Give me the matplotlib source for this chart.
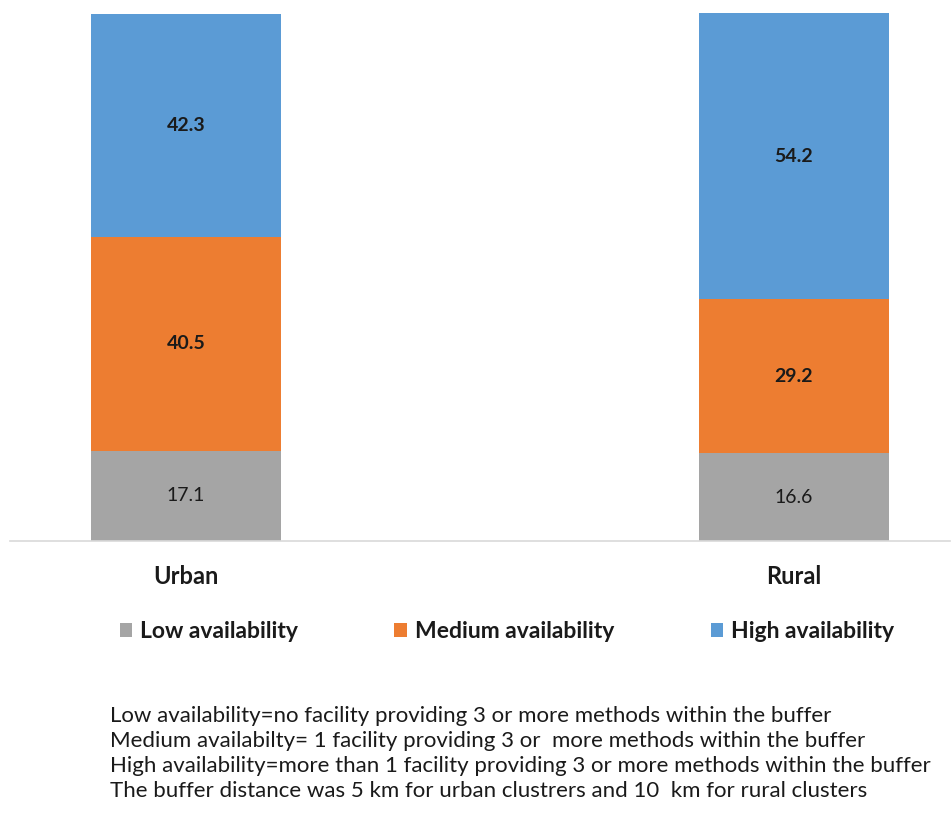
import matplotlib
matplotlib.use("Agg")
import matplotlib.pyplot as plt
from matplotlib.patches import Patch

categories = ["Urban", "Rural"]
series_names = ["Low availability", "Medium availability", "High availability"]
low = [17.1, 16.6]
medium = [40.5, 29.2]
high = [42.3, 54.2]
colors = ["#A5A5A5", "#ED7D31", "#5B9BD5"]
notes = [
    "Low availability=no facility providing 3 or more methods within the buffer",
    "Medium availabilty= 1 facility providing 3 or  more methods within the buffer",
    "High availability=more than 1 facility providing 3 or more methods within the buffer",
    "The buffer distance was 5 km for urban clustrers and 10  km for rural clusters",
]

plt.rcParams['font.family'] = ['Lato', 'DejaVu Sans']

fig = plt.figure(figsize=(9.53, 8.14), dpi=100)
ax = fig.add_axes([10/953, 1-541/814, 940/953, 528/814])

x = list(range(len(categories)))
width = 0.3125
bottoms = [0.0] * len(categories)
for vals, col, name, bold in zip([low, medium, high], colors, series_names, [False, True, True]):
    ax.bar(x, vals, width, bottom=bottoms, color=col, label=name, zorder=2)
    for xi, v, b in zip(x, vals, bottoms):
        ax.text(xi, b + v/2, f"{v:.1f}", ha="center", va="center", fontsize=14,
                fontweight="bold" if bold else "normal", color="#1a1a1a")
    bottoms = [b + v for b, v in zip(bottoms, vals)]

ax.set_xlim(-0.2895, 1.2566)
ax.set_ylim(0, 100)
for s in ["top", "right", "left"]:
    ax.spines[s].set_visible(False)
ax.spines["bottom"].set_color("#D9D9D9")
ax.spines["bottom"].set_linewidth(1.2)
ax.set_yticks([])
ax.set_xticks(x)
ax.set_xticklabels(categories, fontsize=17, fontweight="bold", color="#1a1a1a")
ax.tick_params(axis="x", length=0, pad=17)

handles = [Patch(facecolor=c, label=n) for c, n in zip(colors, series_names)]
leg = fig.legend(handles=handles, loc="center", bbox_to_anchor=(507/953, 1-632/814), ncol=3,
                 frameon=False, handlelength=0.55, handleheight=0.55, handletextpad=0.35,
                 columnspacing=4.2, prop={"size": 16.5, "weight": "bold"})
for t in leg.get_texts():
    t.set_color("#1a1a1a")

for i, line in enumerate(notes):
    fig.text(110/953, 1-(716 + 25*i)/814, line, ha="left", va="center", fontsize=16, color="#1a1a1a")

fig.savefig("out.png", dpi=100)
